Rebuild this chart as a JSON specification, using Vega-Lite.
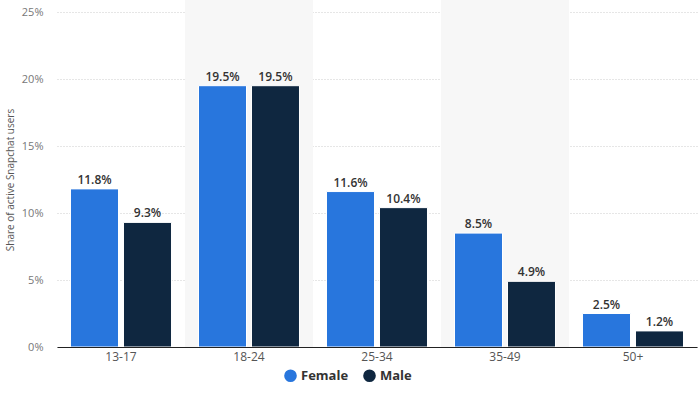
{
  "$schema": "https://vega.github.io/schema/vega-lite/v6.json",
  "width": 640,
  "height": 335,
  "autosize": {"type": "none"},
  "padding": {"left": 57, "top": 12, "right": 3, "bottom": 70},
  "background": "white",
  "config": {
    "view": {"stroke": null},
    "font": "Open Sans"
  },
  "datasets": {
    "shares": [
      {"age": "13-17", "gender": "Female", "share": 11.8},
      {"age": "13-17", "gender": "Male", "share": 9.3},
      {"age": "18-24", "gender": "Female", "share": 19.5},
      {"age": "18-24", "gender": "Male", "share": 19.5},
      {"age": "25-34", "gender": "Female", "share": 11.6},
      {"age": "25-34", "gender": "Male", "share": 10.4},
      {"age": "35-49", "gender": "Female", "share": 8.5},
      {"age": "35-49", "gender": "Male", "share": 4.9},
      {"age": "50+", "gender": "Female", "share": 2.5},
      {"age": "50+", "gender": "Male", "share": 1.2}
    ],
    "bands": [
      {"age": "18-24", "lo": 0, "hi": 25.9},
      {"age": "35-49", "lo": 0, "hi": 25.9}
    ]
  },
  "layer": [
    {
      "data": {"name": "bands"},
      "mark": {"type": "rect", "color": "#f7f7f7", "clip": false},
      "encoding": {
        "x": {"field": "age", "type": "nominal"},
        "y": {"field": "lo", "type": "quantitative"},
        "y2": {"field": "hi"}
      }
    },
    {
      "data": {"name": "shares"},
      "mark": {"type": "bar", "stroke": "white", "strokeWidth": 1},
      "encoding": {
        "x": {"field": "age", "type": "nominal"},
        "xOffset": {"field": "gender", "type": "nominal", "scale": {"paddingInner": 0.094, "paddingOuter": 0.255}},
        "y": {"field": "share", "type": "quantitative"},
        "color": {
          "field": "gender", "type": "nominal",
          "scale": {"domain": ["Female", "Male"], "range": ["#2876dd", "#0f2740"]},
          "legend": {
            "orient": "none", "legendX": 227, "legendY": 357, "direction": "horizontal",
            "title": null, "symbolType": "circle", "symbolSize": 160, "symbolStrokeWidth": 0,
            "labelFontSize": 13, "labelFontWeight": "bold", "labelColor": "#333333",
            "columnPadding": 14, "symbolOpacity": 1
          }
        }
      }
    },
    {
      "data": {"name": "shares"},
      "mark": {"type": "text", "dy": -9, "fontSize": 12, "fontWeight": 600, "color": "#333333",
        "text": {"expr": "format(datum.share, '.1f') + '%'"}},
      "encoding": {
        "x": {"field": "age", "type": "nominal"},
        "xOffset": {"field": "gender", "type": "nominal"},
        "y": {"field": "share", "type": "quantitative"}
      }
    }
  ],
  "encoding": {
    "x": {
      "field": "age", "type": "nominal",
      "scale": {"domain": ["13-17", "18-24", "25-34", "35-49", "50+"], "paddingInner": 0, "paddingOuter": 0},
      "axis": {
        "title": null, "labelAngle": 0, "labelFontSize": 12, "labelColor": "#555555",
        "ticks": false, "labelPadding": 4, "domainColor": "#222222", "domainWidth": 1.2
      }
    },
    "y": {
      "type": "quantitative",
      "scale": {"domain": [0, 25]},
      "axis": {
        "title": "Share of active Snapchat users", "titleFontSize": 10, "titleFontWeight": "normal",
        "titleColor": "#555555", "titlePadding": 6,
        "values": [0, 5, 10, 15, 20, 25], "labelExpr": "datum.value + '%'",
        "labelFontSize": 11, "labelColor": "#777777", "labelPadding": 14,
        "ticks": false, "domain": false,
        "gridColor": "#cccccc", "gridDash": [1, 2]
      }
    }
  }
}
